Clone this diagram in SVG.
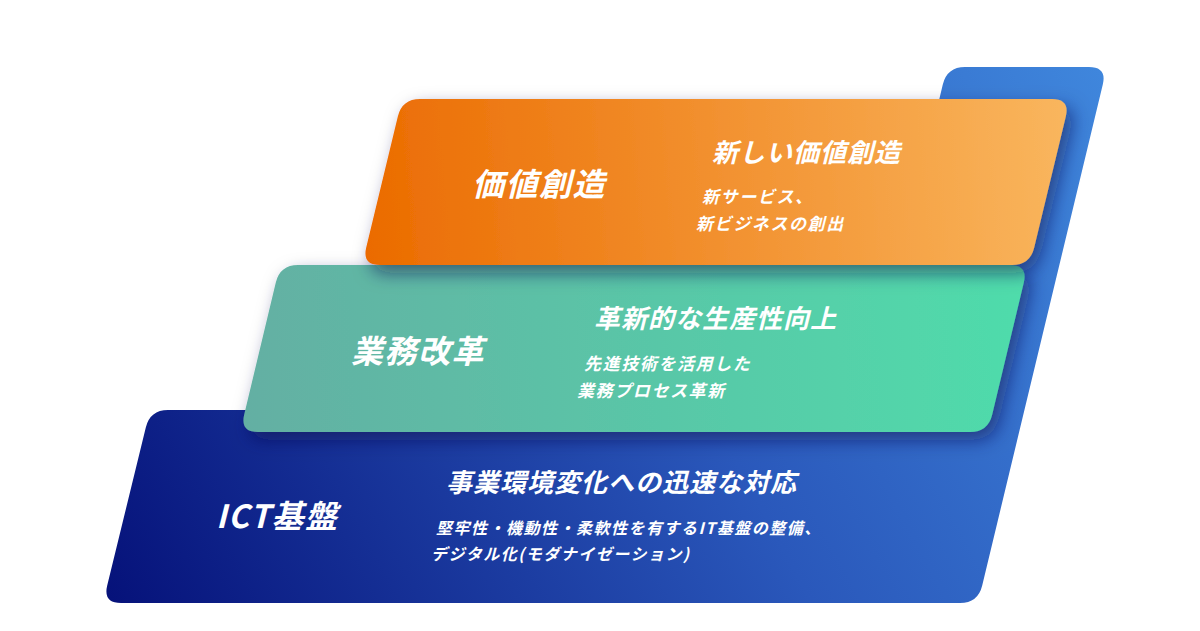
<svg xmlns="http://www.w3.org/2000/svg" width="1200" height="631" viewBox="0 0 1200 631">
<defs>
<linearGradient id="gBlue" gradientUnits="userSpaceOnUse" x1="110" y1="600" x2="1100" y2="70">
<stop offset="0" stop-color="#06127a"/>
<stop offset="0.55" stop-color="#2a58bb"/>
<stop offset="1" stop-color="#3f86dc"/>
</linearGradient>
<linearGradient id="gOrange" gradientUnits="userSpaceOnUse" x1="362" y1="200" x2="1070" y2="140">
<stop offset="0" stop-color="#eb6b00"/>
<stop offset="1" stop-color="#f9b65e"/>
</linearGradient>
<linearGradient id="gGreen" gradientUnits="userSpaceOnUse" x1="240" y1="370" x2="1028" y2="320">
<stop offset="0" stop-color="#64afa3"/>
<stop offset="1" stop-color="#4fdcab"/>
</linearGradient>
<filter id="shadow" x="-10%" y="-30%" width="125%" height="170%">
<feDropShadow dx="6" dy="8" stdDeviation="9" flood-color="#0a1850" flood-opacity="0.55"/>
</filter>
</defs>
<style>
text { fill: #ffffff; font-family: "Noto Sans CJK JP", "Noto Sans", sans-serif; font-style: italic; }
.title { font-size: 32px; font-weight: 700; letter-spacing: 1.5px; }
.sub { font-size: 26px; font-weight: 700; letter-spacing: 1px; }
.desc { font-size: 17px; font-weight: 700; letter-spacing: 1.6px; }
.desc2 { font-size: 16px; font-weight: 700; letter-spacing: 1.5px; }
</style>
<rect width="1200" height="631" fill="#ffffff"/>
<g id="ict">
<path d="M168,410 L865,410 L942.8,84.5 Q947,67 965,67 L1089,67 Q1107,67 1102.8,84.5 L982.2,585.5 Q978,603 960,603 L121,603 Q103,603 107.2,585.5 L145.8,427.5 Q150,410 168,410 Z" fill="url(#gBlue)"/>
<text class="title" x="216" y="528">ICT基盤</text>
<text class="sub" x="446" y="492">事業環境変化への迅速な対応</text>
<text class="desc2" x="436" y="534">堅牢性・機動性・柔軟性を有するIT基盤の整備、</text>
<text class="desc2" x="431" y="560">デジタル化(モダナイゼーション)</text>
</g>
<g id="gyomu">
<path d="M298,265 L1010,265 Q1028,265 1023.8,282.5 L992.2,414.5 Q988,432 970,432 L258,432 Q240,432 244.2,414.5 L275.8,282.5 Q280,265 298,265 Z" fill="url(#gGreen)" filter="url(#shadow)"/>
<text class="title" x="351" y="363">業務改革</text>
<text class="sub" x="594" y="328">革新的な生産性向上</text>
<text class="desc" x="584" y="370">先進技術を活用した</text>
<text class="desc" x="577" y="397">業務プロセス革新</text>
</g>
<g id="kachi">
<path d="M420,99 L1052,99 Q1070,99 1065.8,116.5 L1034.2,247.5 Q1030,265 1012,265 L380,265 Q362,265 366.2,247.5 L397.8,116.5 Q402,99 420,99 Z" fill="url(#gOrange)" filter="url(#shadow)"/>
<text class="title" x="472" y="196">価値創造</text>
<text class="sub" x="712" y="162">新しい価値創造</text>
<text class="desc" x="702" y="203">新サービス、</text>
<text class="desc" x="696" y="230">新ビジネスの創出</text>
</g>
<g id="connectors"/>
</svg>
